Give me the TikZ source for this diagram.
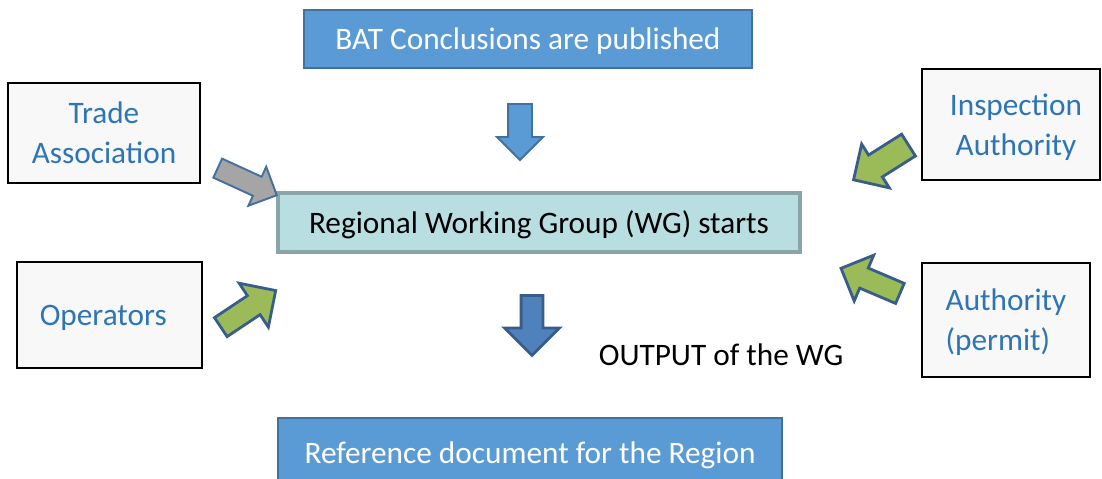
\documentclass[tikz,border=0pt]{standalone}
\usepackage{fontspec}
\setmainfont{Carlito}
\usepackage{xcolor}
\usetikzlibrary{shapes.arrows}
\definecolor{bat-blue}{HTML}{5B9BD5}
\definecolor{bat-edge}{HTML}{41719C}
\definecolor{actor-fill}{HTML}{F8F8F8}
\definecolor{actor-text}{HTML}{2E75B6}
\definecolor{wg-fill}{HTML}{B8DEE2}
\definecolor{wg-edge}{HTML}{8AA5A8}
\definecolor{out-blue}{HTML}{4F81BD}
\definecolor{out-edge}{HTML}{385D8A}
\definecolor{leaf-green}{HTML}{9BBB59}
\definecolor{trade-gray}{HTML}{A5A5A5}

\begin{document}
\begin{tikzpicture}[x=0.02cm, y=-0.02cm,
    every node/.style={font=\fontsize{17.8}{22.7}\selectfont,
      text depth=0pt},
    actor/.style={draw=black, line width=1.2pt, fill=actor-fill,
      text=actor-text, align=center, inner sep=0pt},
    bluebox/.style={draw=bat-edge, line width=1.1pt, fill=bat-blue,
      text=white, inner sep=0pt},
    bigarrow/.style={single arrow, inner xsep=0pt, draw=out-edge,
      line width=1.6pt, fill=leaf-green}]
  \useasboundingbox (0, 0) rectangle (1102, 479);
  \clip (0, 0) rectangle (1102, 479);
  % top and bottom
  \node[bluebox, minimum width=8.98cm, minimum height=1.16cm] (bat)
    at (528, 39) {BAT Conclusions are published\hspace{0.44cm}};
  \node[draw=wg-edge, line width=2.3pt, fill=wg-fill, inner sep=0pt,
    minimum width=10.44cm, minimum height=1.18cm] (wg)
    at (539, 222.5) {Regional Working Group (WG) starts};
  \node[bluebox, minimum width=10.08cm, minimum height=1.4cm] (ref)
    at (530, 453) {Reference document for the Region};
  \node (output) at (721, 355) {OUTPUT of the WG};
  % actors
  \node[actor, minimum width=3.84cm, minimum height=2.0cm] (trade)
    at (104, 133) {Trade\\Association};
  \node[actor, minimum width=3.56cm, minimum height=2.22cm] (insp)
    at (1011, 124.5) {\hspace{0.2cm}Inspection\\\hspace{0.2cm}Authority};
  \node[actor, minimum width=3.7cm, minimum height=2.12cm] (oper)
    at (109.5, 315) {Operators\hspace{0.25cm}};
  \node[actor, align=left, minimum width=3.36cm, minimum height=2.28cm]
    (auth) at (1006, 320) {Authority\\(permit)};
  % arrows
  \node[single arrow, inner xsep=0pt, inner ysep=0.22cm, draw=bat-edge,
    line width=1.1pt, fill=bat-blue, minimum height=1.12cm,
    single arrow head extend=0.22cm, rotate=-90] (down1) at (520, 126) {};
  \node[bigarrow, fill=out-blue, inner ysep=0.19cm, minimum height=1.2cm,
    single arrow head extend=0.33cm, rotate=-90]
    (down2) at (532, 320) {};
  \node[single arrow, inner xsep=0pt, inner ysep=0.19cm, draw=bat-edge,
    line width=1.1pt, fill=trade-gray, minimum height=1.3cm,
    single arrow head extend=0.22cm, rotate=-24.6] (a-trade)
    at (242.5, 179.5) {};
  \node[bigarrow, inner ysep=0.23cm, minimum height=1.3cm,
    single arrow head extend=0.26cm, rotate=212.3] (a-insp)
    at (886.5, 159) {};
  \node[bigarrow, inner ysep=0.2cm, minimum height=1.32cm,
    single arrow head extend=0.3cm, rotate=33.7] (a-oper)
    at (243.5, 312) {};
  \node[bigarrow, inner ysep=0.19cm, minimum height=1.28cm,
    single arrow head extend=0.28cm, rotate=156.9] (a-auth)
    at (875.5, 283) {};
\end{tikzpicture}
\end{document}
